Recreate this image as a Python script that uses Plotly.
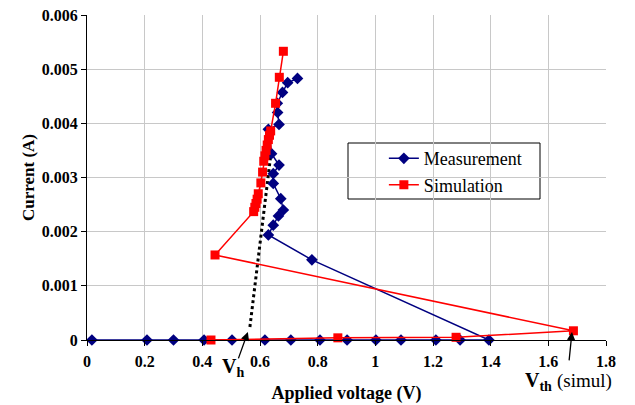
import plotly.graph_objects as go

# Measurement (navy diamonds)
meas_x = [0.017, 0.208, 0.30, 0.406, 0.503, 0.617, 0.707, 0.808, 0.902, 1.002, 1.089, 1.21, 1.294, 1.394,
          0.78, 0.629, 0.646, 0.664, 0.681, 0.672, 0.646, 0.646, 0.666, 0.64, 0.629, 0.666, 0.661, 0.66, 0.678, 0.696, 0.73]
meas_y = [0, 0, 0, 0, 0, 0, 0, 0, 0, 0, 0, 0, 0, 0,
          0.00148, 0.00194, 0.00212, 0.00229, 0.0024, 0.00261, 0.00289, 0.00307, 0.00323, 0.00344, 0.00389,
          0.00398, 0.0042, 0.00437, 0.00457, 0.00475, 0.00483]

# Simulation (red squares)
sim_x = [0.43, 0.87, 1.28, 1.687, 0.444, 0.578, 0.582, 0.586, 0.59, 0.594, 0.603, 0.609, 0.613, 0.617, 0.621,
         0.625, 0.629, 0.633, 0.637, 0.654, 0.667, 0.681]
sim_y = [0, 0.00004, 0.00005, 0.00017, 0.00157, 0.00237, 0.00245, 0.00252, 0.0026, 0.0027, 0.0029, 0.0031,
         0.0033, 0.0034, 0.0035, 0.0036, 0.0037, 0.00378, 0.00386, 0.00437, 0.00485, 0.00533]

# Dotted guide line
guide_x = [0.565, 0.582, 0.600, 0.615, 0.638]
guide_y = [0.00024, 0.0010, 0.00175, 0.0025, 0.00345]

x_ticks = [0, 0.2, 0.4, 0.6, 0.8, 1.0, 1.2, 1.4, 1.6, 1.8]
x_labels = ["0", "0.2", "0.4", "0.6", "0.8", "1", "1.2", "1.4", "1.6", "1.8"]
y_ticks = [0, 0.001, 0.002, 0.003, 0.004, 0.005, 0.006]
y_labels = ["0", "0.001", "0.002", "0.003", "0.004", "0.005", "0.006"]

SERIF = "Liberation Serif, Times New Roman, serif"

fig = go.Figure()
fig.add_trace(go.Scatter(x=guide_x, y=guide_y, mode="lines", showlegend=False,
                         line=dict(color="black", width=3, dash="dot"), hoverinfo="skip"))
fig.add_trace(go.Scatter(x=meas_x, y=meas_y, mode="lines+markers", name="Measurement",
                         line=dict(color="#000080", width=1.5),
                         marker=dict(symbol="diamond", size=9, color="#000080"), cliponaxis=False))
fig.add_trace(go.Scatter(x=sim_x, y=sim_y, mode="lines+markers", name="Simulation",
                         line=dict(color="#FF0000", width=1.5),
                         marker=dict(symbol="square", size=9, color="#FF0000"), cliponaxis=False))

fig.update_layout(
    width=635, height=405,
    margin=dict(l=87, r=29, t=15, b=65, autoexpand=False),
    paper_bgcolor="white", plot_bgcolor="white",
    font=dict(family=SERIF, color="black"),
    showlegend=True,
    legend=dict(x=0.572, y=0.615, xanchor="left", yanchor="top", bgcolor="rgba(0,0,0,0)",
                borderwidth=0, font=dict(size=18, family=SERIF), itemwidth=30),
    xaxis=dict(range=[0, 1.8], tickvals=x_ticks, ticktext=x_labels, showgrid=True, gridcolor="#c8c8c8",
               gridwidth=1, zeroline=False, showline=True, linecolor="black", linewidth=1,
               ticks="outside", ticklen=5, tickcolor="black", automargin=False, ticklabelstandoff=2,
               tickfont=dict(size=16, family=SERIF, weight="bold"),
               title=dict(text="<b>Applied voltage (V)</b>", font=dict(size=18, family=SERIF), standoff=17)),
    yaxis=dict(range=[0, 0.006], tickvals=y_ticks, ticktext=y_labels, showgrid=True, gridcolor="#c8c8c8",
               gridwidth=1, zeroline=False, showline=True, linecolor="black", linewidth=1,
               ticks="outside", ticklen=5, tickcolor="black", automargin=False,
               tickfont=dict(size=16, family=SERIF, weight="bold"),
               title=dict(text="<b>Current (A)</b>", font=dict(size=17, family=SERIF), standoff=2)),
)

# Legend box
fig.add_shape(type="rect", xref="paper", yref="paper",
              x0=(348 - 87) / 519, x1=(540 - 87) / 519, y0=(340 - 199) / 325, y1=(340 - 143) / 325,
              line=dict(color="black", width=1), fillcolor="white", layer="below")

# Annotations with arrows
fig.add_annotation(x=0.558, y=0.00015, xref="x", yref="y", text="", showarrow=True,
                   arrowhead=2, arrowsize=1.3, arrowwidth=1.3, arrowcolor="black", ax=-10, ay=28)
fig.add_annotation(x=1.682, y=0.00015, xref="x", yref="y", text="", showarrow=True,
                   arrowhead=2, arrowsize=1.3, arrowwidth=1.3, arrowcolor="black", ax=-3, ay=30)
fig.add_annotation(x=0.505, y=(340 - 381) / 325, xref="x", yref="paper", showarrow=False,
                   text="<b>V<sub>h</sub></b>", font=dict(size=20, family=SERIF), borderpad=0)
fig.add_annotation(x=1.67, y=(340 - 395) / 325, xref="x", yref="paper", showarrow=False,
                   text="<b>V<sub>th</sub></b> <span style='font-size:19px'>(simul)</span>",
                   font=dict(size=20, family=SERIF), borderpad=0)

fig.write_html("out.html", config={"displayModeBar": False},
               post_script="document.body.style.margin='0';document.body.style.padding='0';")
